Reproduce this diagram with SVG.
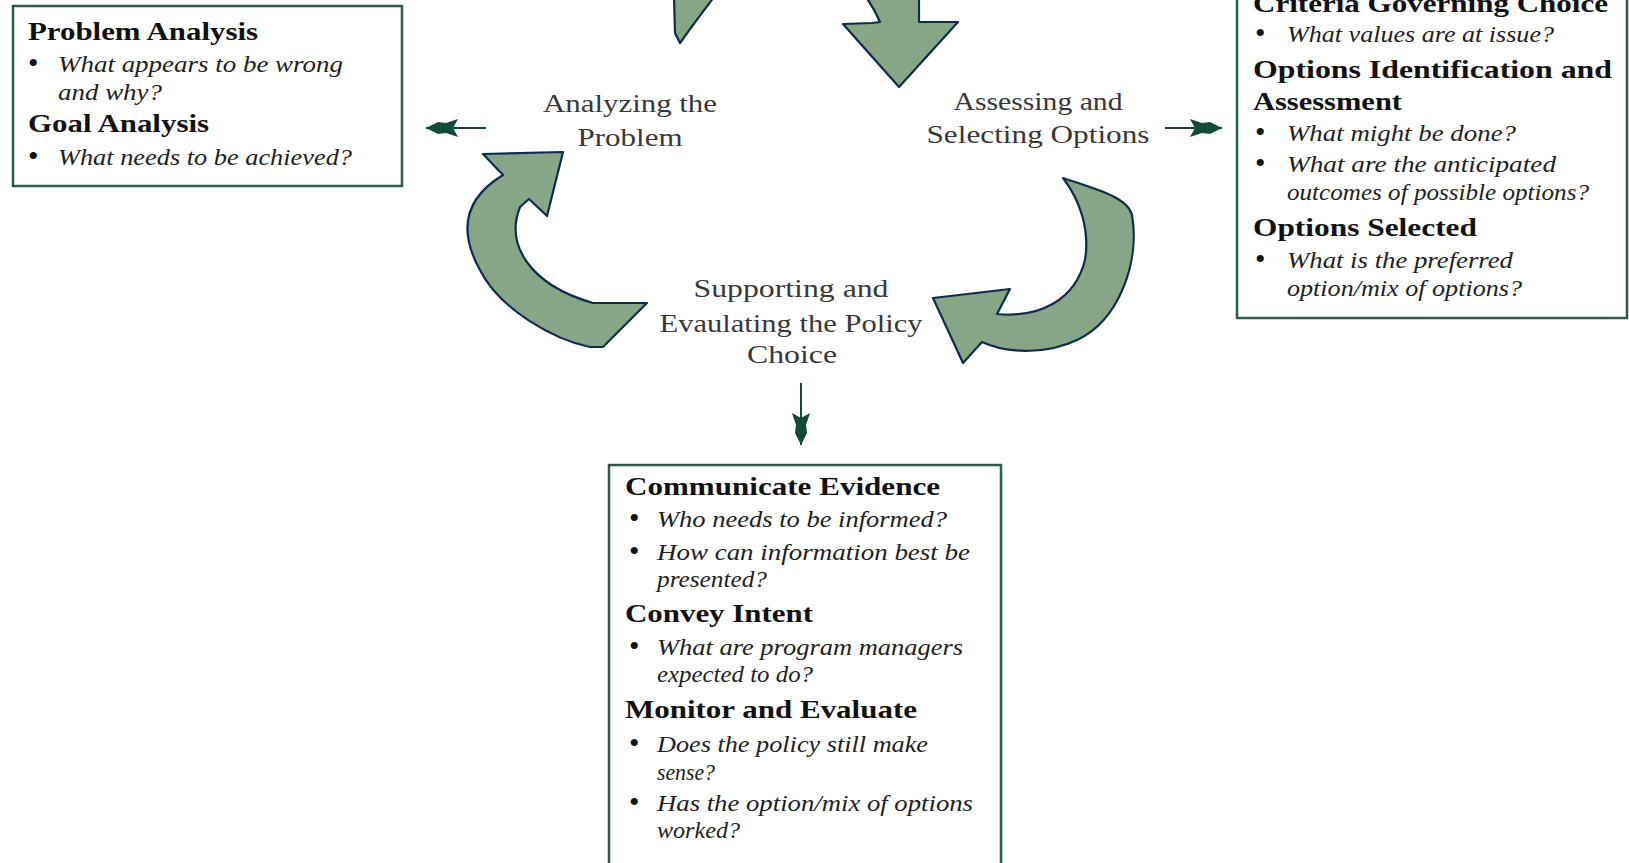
<svg xmlns="http://www.w3.org/2000/svg" width="1629" height="863" viewBox="0 0 1629 863">
<style>
.bg{fill:#ffffff}
.box{fill:#ffffff;stroke:#2d5b4b;stroke-width:2.5}
.h{font-family:"Liberation Serif",serif;font-weight:bold;font-size:25px;fill:#111111}
.q{font-family:"Liberation Serif",serif;font-style:italic;font-size:24px;fill:#222222}
.bu{font-family:"Liberation Serif",serif;font-size:30px;fill:#111111}
.lbl{font-family:"Liberation Serif",serif;font-size:26px;fill:#383838;text-anchor:middle}
.cyc{fill:#87a685;stroke:#0d2c4e;stroke-width:2.2;stroke-linejoin:round}
.con{stroke:#12493a;stroke-width:2;fill:none;marker-end:url(#ah)}
</style>
<defs>
<marker id="ah" markerUnits="userSpaceOnUse" markerWidth="40" markerHeight="24" viewBox="-34 -12 40 24" refX="0" refY="0" orient="auto">
<path d="M0,0 L-12,-6 L-20,-5 L-32,-9 L-27,0 L-32,9 L-20,5 L-12,6 Z" fill="#12493a"/>
</marker>
</defs>
<rect class="bg" x="0" y="0" width="1629" height="863"/>

<g id="cycle-arrows">
<path class="cyc" d="M674,-3 L675,33 L680,43 Q695,22 714,-3 Z"/>
<path class="cyc" d="M866,-3 Q875,10 880,22 L872,23 L843,24 L899,87 L958,22 L919,22 L919,-3 Z"/>
<path class="cyc" d="M1063,178 C1100,190 1128,198 1132,215 C1140,260 1120,320 1077,340 C1050,353 1010,355 982,342 L963,363 L933,298 L1010,289 L997,314 C1040,318 1075,300 1085,260 C1090,230 1080,200 1063,178 Z"/>
<path class="cyc" d="M483,154 L563,152 L547,216 L529,199 L520,207 C505,245 530,285 593,303 L647,303 L603,347 L590,347 C555,340 500,310 480,270 C455,225 470,195 503,175 Z"/>
</g>

<g id="connectors">
<line class="con" x1="486" y1="128" x2="426" y2="128"/>
<line class="con" x1="1165" y1="128" x2="1222" y2="128"/>
<line class="con" x1="801" y1="383" x2="801" y2="445"/>
</g>

<g id="label-analyzing">
<text class="lbl" x="630" y="112" textLength="174" lengthAdjust="spacingAndGlyphs">Analyzing the</text>
<text class="lbl" x="630" y="146" textLength="105" lengthAdjust="spacingAndGlyphs">Problem</text>
</g>
<g id="label-assessing">
<text class="lbl" x="1038" y="110" textLength="169" lengthAdjust="spacingAndGlyphs">Assessing and</text>
<text class="lbl" x="1038" y="143" textLength="223" lengthAdjust="spacingAndGlyphs">Selecting Options</text>
</g>
<g id="label-supporting">
<text class="lbl" x="791" y="297" textLength="195" lengthAdjust="spacingAndGlyphs">Supporting and</text>
<text class="lbl" x="791" y="332" textLength="263" lengthAdjust="spacingAndGlyphs">Evaulating the Policy</text>
<text class="lbl" x="792" y="363" textLength="90" lengthAdjust="spacingAndGlyphs">Choice</text>
</g>

<g id="box-problem">
<rect class="box" x="13" y="6" width="389" height="180"/>
<text class="h" x="28" y="40" textLength="230" lengthAdjust="spacingAndGlyphs">Problem Analysis</text>
<text class="bu" x="28" y="73">•</text>
<text class="q" x="58" y="72" textLength="285" lengthAdjust="spacingAndGlyphs">What appears to be wrong</text>
<text class="q" x="58" y="100" textLength="104" lengthAdjust="spacingAndGlyphs">and why?</text>
<text class="h" x="28" y="132" textLength="181" lengthAdjust="spacingAndGlyphs">Goal Analysis</text>
<text class="bu" x="28" y="166">•</text>
<text class="q" x="58" y="165" textLength="294" lengthAdjust="spacingAndGlyphs">What needs to be achieved?</text>
</g>

<g id="box-options">
<rect class="box" x="1237" y="-10" width="390" height="328"/>
<text class="h" x="1253" y="12" textLength="355" lengthAdjust="spacingAndGlyphs">Criteria Governing Choice</text>
<text class="bu" x="1255" y="43">•</text>
<text class="q" x="1287" y="42" textLength="267" lengthAdjust="spacingAndGlyphs">What values are at issue?</text>
<text class="h" x="1253" y="78" textLength="359" lengthAdjust="spacingAndGlyphs">Options Identification and</text>
<text class="h" x="1253" y="110" textLength="149" lengthAdjust="spacingAndGlyphs">Assessment</text>
<text class="bu" x="1255" y="142">•</text>
<text class="q" x="1287" y="141" textLength="229" lengthAdjust="spacingAndGlyphs">What might be done?</text>
<text class="bu" x="1255" y="173">•</text>
<text class="q" x="1287" y="172" textLength="269" lengthAdjust="spacingAndGlyphs">What are the anticipated</text>
<text class="q" x="1287" y="200" textLength="302" lengthAdjust="spacingAndGlyphs">outcomes of possible options?</text>
<text class="h" x="1253" y="236" textLength="224" lengthAdjust="spacingAndGlyphs">Options Selected</text>
<text class="bu" x="1255" y="269">•</text>
<text class="q" x="1287" y="268" textLength="226" lengthAdjust="spacingAndGlyphs">What is the preferred</text>
<text class="q" x="1287" y="296" textLength="235" lengthAdjust="spacingAndGlyphs">option/mix of options?</text>
</g>

<g id="box-communicate">
<rect class="box" x="609" y="465" width="392" height="420"/>
<text class="h" x="625" y="495" textLength="315" lengthAdjust="spacingAndGlyphs">Communicate Evidence</text>
<text class="bu" x="629" y="528">•</text>
<text class="q" x="657" y="527" textLength="290" lengthAdjust="spacingAndGlyphs">Who needs to be informed?</text>
<text class="bu" x="629" y="561">•</text>
<text class="q" x="657" y="560" textLength="313" lengthAdjust="spacingAndGlyphs">How can information best be</text>
<text class="q" x="657" y="587" textLength="110" lengthAdjust="spacingAndGlyphs">presented?</text>
<text class="h" x="625" y="622" textLength="188" lengthAdjust="spacingAndGlyphs">Convey Intent</text>
<text class="bu" x="629" y="656">•</text>
<text class="q" x="657" y="655" textLength="306" lengthAdjust="spacingAndGlyphs">What are program managers</text>
<text class="q" x="657" y="682" textLength="156" lengthAdjust="spacingAndGlyphs">expected to do?</text>
<text class="h" x="625" y="718" textLength="292" lengthAdjust="spacingAndGlyphs">Monitor and Evaluate</text>
<text class="bu" x="629" y="753">•</text>
<text class="q" x="657" y="752" textLength="271" lengthAdjust="spacingAndGlyphs">Does the policy still make</text>
<text class="q" x="657" y="780" textLength="58" lengthAdjust="spacingAndGlyphs">sense?</text>
<text class="bu" x="629" y="812">•</text>
<text class="q" x="657" y="811" textLength="316" lengthAdjust="spacingAndGlyphs">Has the option/mix of options</text>
<text class="q" x="657" y="838" textLength="83" lengthAdjust="spacingAndGlyphs">worked?</text>
</g>
</svg>
